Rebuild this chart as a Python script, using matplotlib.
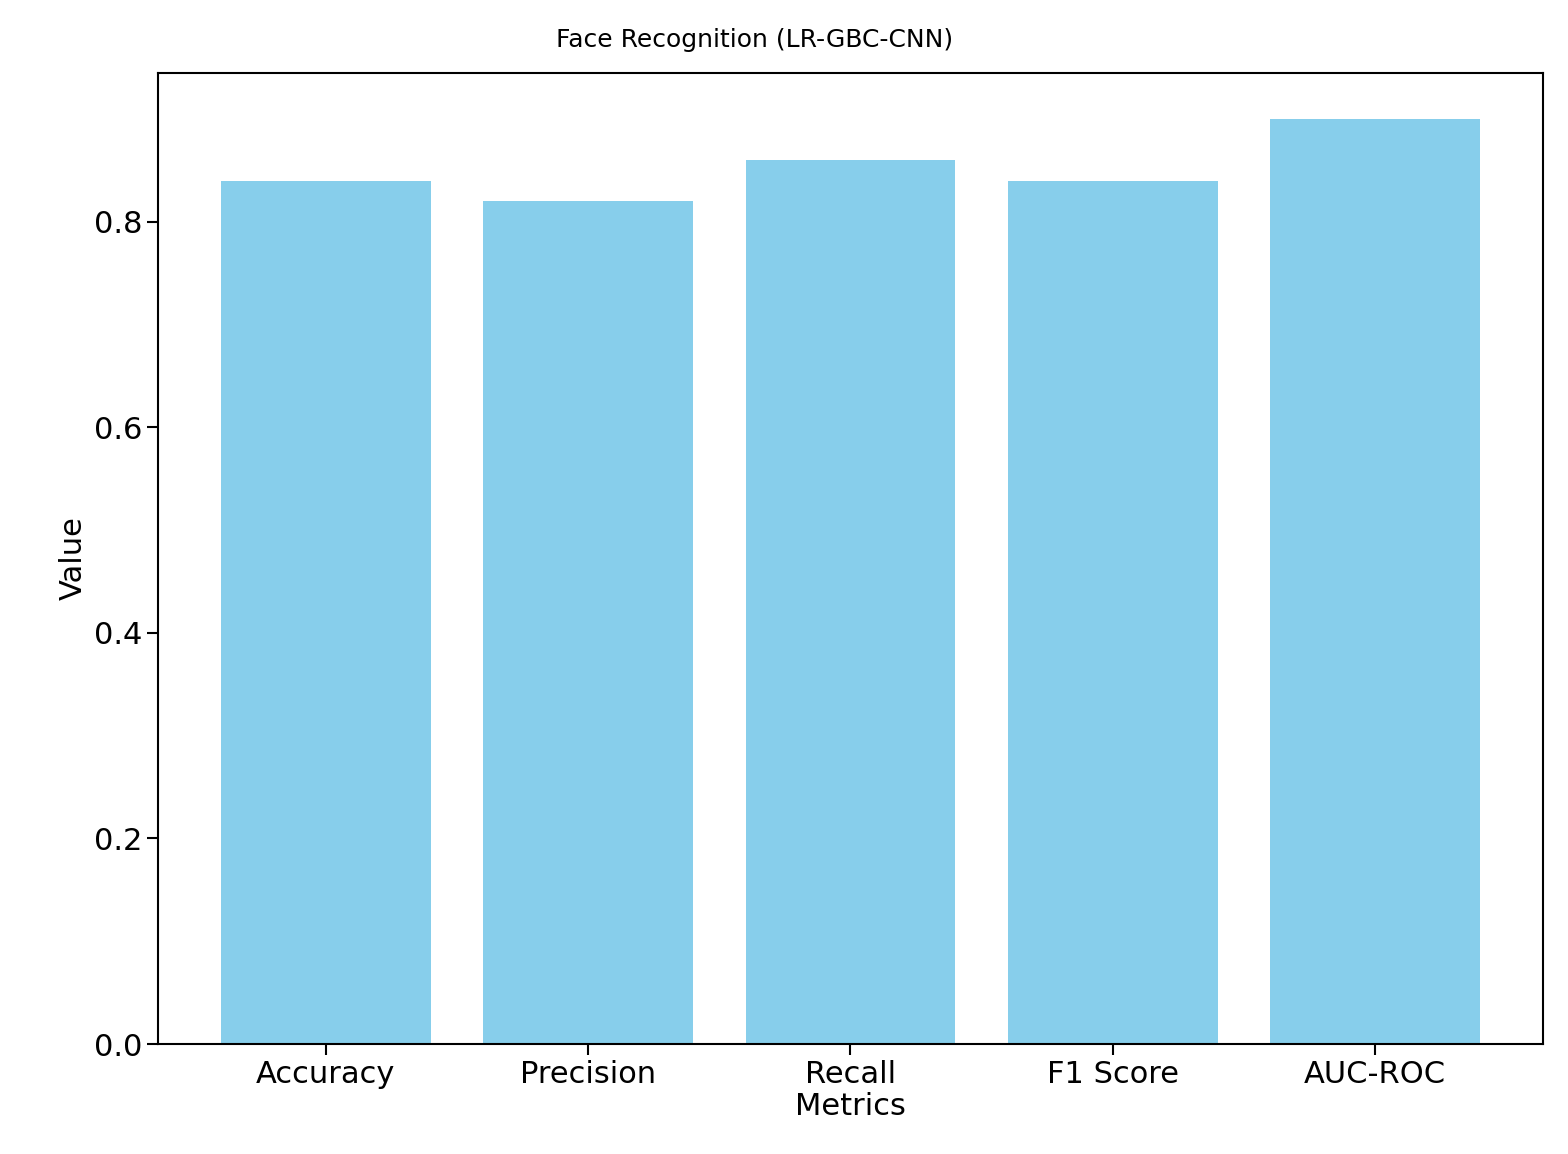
import matplotlib
matplotlib.use("Agg")
import matplotlib.pyplot as plt

metrics = ["Accuracy", "Precision", "Recall", "F1 Score", "AUC-ROC"]
values = [0.84, 0.82, 0.86, 0.84, 0.90]

fig = plt.figure(figsize=(15.68, 11.54), dpi=100)
ax = fig.add_axes([158/1568, 1-1044/1154, (1543-158)/1568, (1044-73)/1154])
ax.bar(metrics, values, color="skyblue", width=0.8)
ax.set_xlabel("Metrics", fontsize=22, labelpad=2)
ax.set_ylabel("Value", fontsize=22)
ax.tick_params(labelsize=22, length=8, width=1.5)
ax.set_yticks([0.0, 0.2, 0.4, 0.6, 0.8])
for s in ax.spines.values():
    s.set_linewidth(1.5)
fig.text(755/1568, 1-40/1154, "Face Recognition (LR-GBC-CNN)", ha="center", va="center", fontsize=18)
fig.savefig("out.png", dpi=100)
